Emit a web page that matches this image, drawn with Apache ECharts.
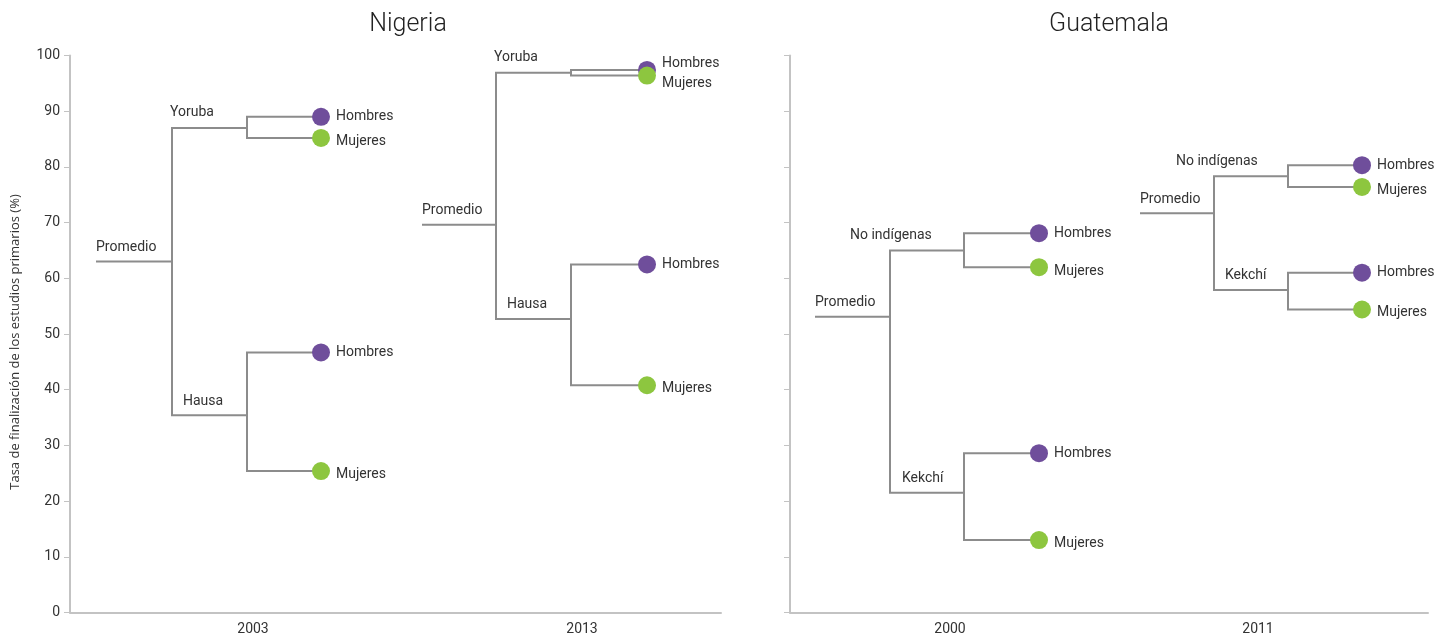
<!DOCTYPE html>
<html>
<head>
<meta charset="utf-8">
<script src="https://cdn.jsdelivr.net/npm/echarts@6/dist/echarts.min.js"></script>
<style>
html,body{margin:0;padding:0;background:#fff;}
#chart{width:1451px;height:638px;}
</style>
</head>
<body>
<div id="chart"></div>
<script>
// ---- data ----
const countries = ['Nigeria', 'Guatemala'];
const years = ['2003', '2013', '2000', '2011'];
const panelOfYear = [0, 0, 1, 1];
const groupALabels = ['Yoruba', 'Yoruba', 'No indígenas', 'No indígenas'];
const groupBLabels = ['Hausa', 'Hausa', 'Kekchí', 'Kekchí'];
const avgLabel = 'Promedio';
const menLabel = 'Hombres';
const womenLabel = 'Mujeres';
const promedio      = [63.0, 69.6, 53.1, 71.7];
const groupA        = [87.0, 96.9, 65.0, 78.3];
const groupAHombres = [89.0, 97.4, 68.1, 80.3];
const groupAMujeres = [85.2, 96.4, 62.0, 76.4];
const groupB        = [35.4, 52.7, 21.5, 57.9];
const groupBHombres = [46.7, 62.5, 28.6, 61.0];
const groupBMujeres = [25.4, 40.8, 13.0, 54.4];
const yTicks = [0, 10, 20, 30, 40, 50, 60, 70, 80, 90, 100];
const yAxisName = 'Tasa de finalización de los estudios primarios (%)';

// ---- layout (positions in axis units, not data) ----
const panelWidth = [651, 638];
const treeX = [
  [26, 102, 177, 251],
  [352, 426, 501, 577],
  [25, 100, 174, 249],
  [350, 424, 498, 572]
];
const yearLabelX = [183, 512, 160, 468];
const groupALabelDx = [-2, -2, -40, -38];
const groupBLabelDx = [11, 11, 12, 11];

const LINE = '#8c8c8c';
const PURPLE = '#6f4e9b';
const GREEN = '#8dc63f';
const TXT = '#333';
const FONT = 'Roboto';

const chart = echarts.init(document.getElementById('chart'));

const grids = [
  {left: 70, right: 1451 - 721, top: 55.5, bottom: 638 - 612.5},
  {left: 790, right: 1451 - 1428, top: 55.5, bottom: 638 - 612.5}
];

const xAxes = [0, 1].map(p => {
  const idx = years.map((y, i) => i).filter(i => panelOfYear[i] === p);
  return {
    type: 'value', gridIndex: p, min: 0, max: panelWidth[p],
    splitLine: {show: false},
    axisLine: {show: true, lineStyle: {color: '#c3c3c3', width: 2}},
    axisTick: {show: false},
    axisLabel: {
      customValues: idx.map(i => yearLabelX[i]),
      formatter: v => { const i = idx.find(k => yearLabelX[k] === v); return i === undefined ? '' : years[i]; },
      color: TXT, fontFamily: FONT, fontSize: 14, margin: 10
    }
  };
});

const yAxes = [0, 1].map(p => ({
  type: 'value', gridIndex: p, min: 0, max: 100, interval: 10,
  splitLine: {show: false},
  axisLine: {show: true, lineStyle: {color: '#c3c3c3', width: 2}},
  axisTick: {show: true, length: 6, lineStyle: {color: '#c3c3c3', width: 1}},
  axisLabel: {show: p === 0, color: TXT, fontFamily: FONT, fontSize: 14, margin: 10,
    formatter: v => yTicks.includes(v) ? String(v) : ''},
  name: p === 0 ? yAxisName : '',
  nameLocation: 'middle', nameGap: 48,
  nameTextStyle: {color: TXT, fontFamily: 'Open Sans', fontSize: 13, padding: [0, 16, 0, 0]}
}));

const series = [];
[0, 1].forEach(p => {
  const idx = years.map((y, i) => i).filter(i => panelOfYear[i] === p);
  const lines = [];
  const menPts = [], womenPts = [], textPts = [];
  idx.forEach(i => {
    const [x0, x1, x2, x3] = treeX[i];
    lines.push({coords: [[x0, promedio[i]], [x1, promedio[i]], [x1, groupA[i]], [x2, groupA[i]], [x2, groupAHombres[i]], [x3, groupAHombres[i]]]});
    lines.push({coords: [[x2, groupA[i]], [x2, groupAMujeres[i]], [x3, groupAMujeres[i]]]});
    lines.push({coords: [[x1, promedio[i]], [x1, groupB[i]], [x2, groupB[i]], [x2, groupBHombres[i]], [x3, groupBHombres[i]]]});
    lines.push({coords: [[x2, groupB[i]], [x2, groupBMujeres[i]], [x3, groupBMujeres[i]]]});
    const closeA = Math.abs(groupAHombres[i] - groupAMujeres[i]) < 2;
    menPts.push({value: [x3, groupAHombres[i]], name: menLabel, label: {offset: [0, closeA ? -6 : 0]}});
    womenPts.push({value: [x3, groupAMujeres[i]], name: womenLabel, label: {offset: [0, closeA ? 8 : 4]}});
    menPts.push({value: [x3, groupBHombres[i]], name: menLabel, label: {offset: [0, 0]}});
    womenPts.push({value: [x3, groupBMujeres[i]], name: womenLabel, label: {offset: [0, 3]}});
    textPts.push({value: [x0, promedio[i]], name: avgLabel, label: {offset: [0, 0]}});
    textPts.push({value: [x1, groupA[i]], name: groupALabels[i], label: {offset: [groupALabelDx[i], -1]}});
    textPts.push({value: [x1, groupB[i]], name: groupBLabels[i], label: {offset: [groupBLabelDx[i], 0]}});
  });
  series.push({
    type: 'lines', coordinateSystem: 'cartesian2d', xAxisIndex: p, yAxisIndex: p,
    polyline: true, silent: true, z: 2,
    lineStyle: {color: LINE, width: 2, opacity: 1, join: 'miter'},
    data: lines
  });
  const leafLabel = {show: true, position: 'right', distance: 6, formatter: d => d.name,
    color: TXT, fontFamily: FONT, fontSize: 14, opacity: 1};
  series.push({type: 'scatter', xAxisIndex: p, yAxisIndex: p, z: 5, symbolSize: 18,
    itemStyle: {color: PURPLE, opacity: 1}, label: leafLabel, data: menPts});
  series.push({type: 'scatter', xAxisIndex: p, yAxisIndex: p, z: 6, symbolSize: 18,
    itemStyle: {color: GREEN, opacity: 1}, label: leafLabel, data: womenPts});
  series.push({type: 'scatter', xAxisIndex: p, yAxisIndex: p, z: 4, symbolSize: 0,
    itemStyle: {opacity: 1, color: TXT},
    label: {show: true, position: 'top', distance: 7, align: 'left', formatter: d => d.name,
      color: TXT, fontFamily: FONT, fontSize: 14, opacity: 1},
    data: textPts});
});

chart.setOption({
  animation: false,
  backgroundColor: '#fff',
  title: [
    {text: countries[0], left: 403, top: 7, textAlign: 'center',
      textStyle: {fontFamily: FONT, fontWeight: 300, fontSize: 25, color: '#222'}},
    {text: countries[1], left: 1104, top: 7, textAlign: 'center',
      textStyle: {fontFamily: FONT, fontWeight: 300, fontSize: 25, color: '#222'}}
  ],
  grid: grids,
  xAxis: xAxes,
  yAxis: yAxes,
  series: series
});
</script>
</body>
</html>
